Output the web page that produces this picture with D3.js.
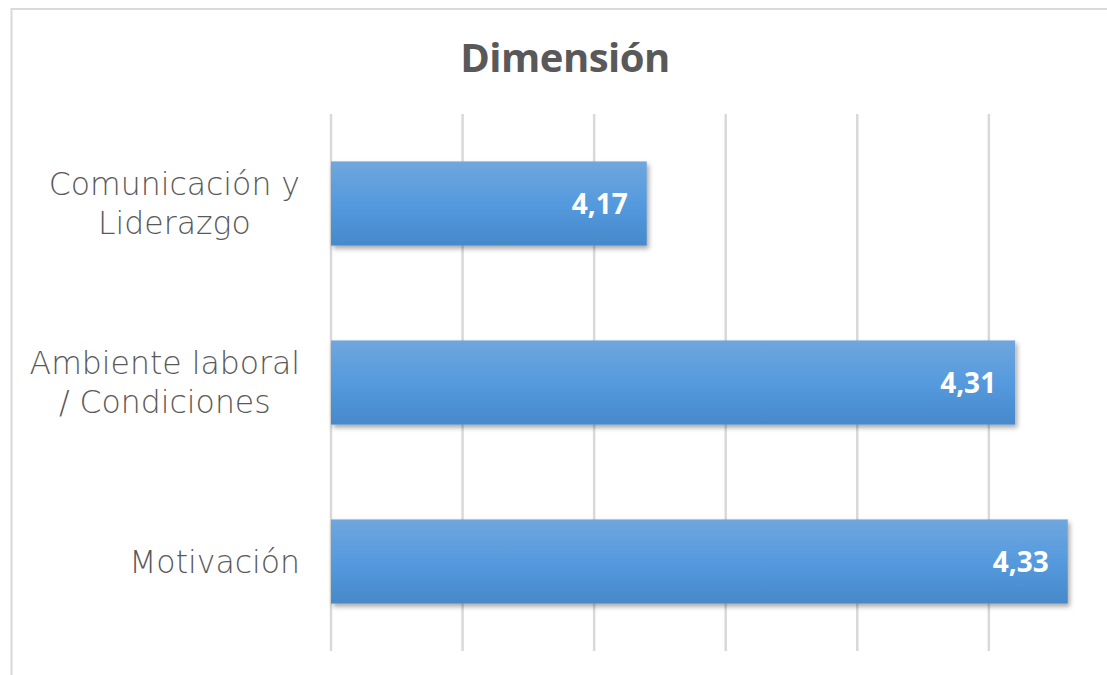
<!DOCTYPE html>
<html><head><meta charset="utf-8">
<script src="https://cdn.jsdelivr.net/npm/d3@7"></script>
<style>body{margin:0;background:#fff}svg{display:block}</style>
</head><body>
<svg id="c" width="1107" height="675"></svg>
<script>
const title = "Dimensión";
const categories = [["Comunicación y","Liderazgo"],["Ambiente laboral","/ Condiciones"],["Motivación"]];
const values = [4.17, 4.31, 4.33];
const labels = ["4,17","4,31","4,33"];
const gridTicks = [4.05, 4.10, 4.15, 4.20, 4.25, 4.30, 4.35];

const svg = d3.select("#c");
const defs = svg.append("defs");
const g = defs.append("linearGradient").attr("id","bg").attr("x1",0).attr("y1",0).attr("x2",0).attr("y2",1);
g.append("stop").attr("offset","0%").attr("stop-color","#70a6dd");
g.append("stop").attr("offset","50%").attr("stop-color","#559ade");
g.append("stop").attr("offset","100%").attr("stop-color","#4689cb");
const f = defs.append("filter").attr("id","sh").attr("x","-5%").attr("y","-20%").attr("width","115%").attr("height","160%");
f.append("feDropShadow").attr("dx",2).attr("dy",3).attr("stdDeviation",2.5).attr("flood-color","#000").attr("flood-opacity",0.35);

// chart border
svg.append("rect").attr("x",11.5).attr("y",9).attr("width",1120).attr("height",700)
  .attr("fill","none").attr("stroke","#d9d9d9").attr("stroke-width",2);

svg.append("text").attr("x",565).attr("y",72).attr("text-anchor","middle")
  .attr("font-family","'Open Sans', 'DejaVu Sans', sans-serif").attr("font-weight","bold")
  .attr("font-size",40).attr("fill","#595959").attr("letter-spacing","-0.5").text(title);

const x = d3.scaleLinear().domain([4.05, 4.35]).range([331, 1120.4]);
const y = d3.scaleBand().domain(d3.range(categories.length)).range([114, 651]).paddingInner(0.53).paddingOuter(0.265);

svg.append("g").selectAll("line").data(gridTicks).join("line")
  .attr("x1",d=>x(d)).attr("x2",d=>x(d)).attr("y1",114).attr("y2",651)
  .attr("stroke","#d9d9d9").attr("stroke-width",2.5);

svg.append("g").selectAll("rect").data(values).join("rect")
  .attr("x",x(4.05)).attr("y",(d,i)=>y(i)).attr("width",d=>x(d)-x(4.05)).attr("height",y.bandwidth())
  .attr("fill","url(#bg)").attr("filter","url(#sh)");

svg.append("g").selectAll("text").data(values).join("text")
  .attr("x",d=>x(d)-19).attr("y",(d,i)=>y(i)+y.bandwidth()/2+10)
  .attr("text-anchor","end").attr("font-family","'Open Sans', sans-serif").attr("font-weight","bold")
  .attr("font-size",28).attr("fill","#fff").text((d,i)=>labels[i]);

const lg = svg.append("g");
const rightEdge = 300;
categories.forEach((lines,i)=>{
  const cy = y(i)+y.bandwidth()/2;
  const lh = 39;
  const t = lg.append("text").attr("text-anchor","middle")
    .attr("font-family","'DejaVu Sans', sans-serif").attr("font-weight",200)
    .attr("font-size",31.5).attr("fill","#595959");
  const spans = lines.map((s,j)=> t.append("tspan").attr("y", cy + (j-(lines.length-1)/2)*lh + 11).text(s));
  const w = d3.max(spans, sp => sp.node().getComputedTextLength());
  spans.forEach(sp => sp.attr("x", rightEdge - w/2));
});
</script>
</body></html>
